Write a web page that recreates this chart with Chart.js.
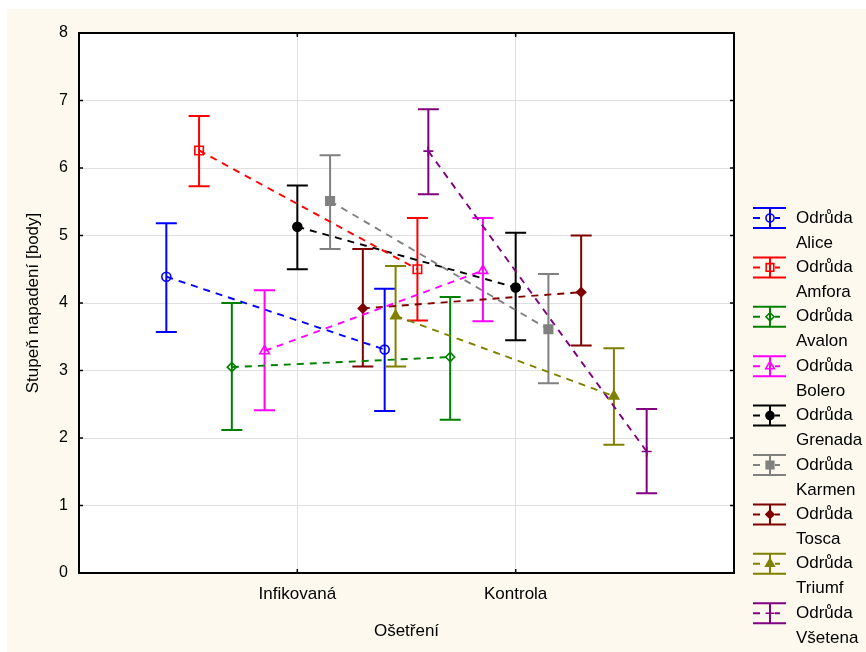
<!DOCTYPE html>
<html><head><meta charset="utf-8">
<script src="https://cdn.jsdelivr.net/npm/chart.js@4"></script>
<style>html,body{margin:0;padding:0;background:#fff;} #wrap{position:relative;width:866px;height:652px;} canvas{display:block;}</style>
</head><body><div id="wrap"><canvas id="c" width="866" height="652"></canvas></div>
<script>
const categories = ['Infikovaná', 'Kontrola'];
const varieties = ['Alice', 'Amfora', 'Avalon', 'Bolero', 'Grenada', 'Karmen', 'Tosca', 'Triumf', 'Všetena'];
const meanInf = [4.39, 6.26, 3.05, 3.29, 5.13, 5.51, 3.92, 3.81, 6.25];
const lowInf  = [3.57, 5.73, 2.12, 2.41, 4.50, 4.80, 3.06, 3.06, 5.61];
const highInf = [5.18, 6.77, 4.00, 4.19, 5.74, 6.19, 4.80, 4.55, 6.87];
const meanKon = [3.31, 4.50, 3.20, 4.48, 4.23, 3.61, 4.16, 2.62, 1.80];
const lowKon  = [2.40, 3.74, 2.27, 3.73, 3.45, 2.81, 3.37, 1.90, 1.18];
const highKon = [4.21, 5.26, 4.09, 5.26, 5.04, 4.43, 5.00, 3.33, 2.43];
const yTicks = [0, 1, 2, 3, 4, 5, 6, 7, 8];

const colors = ['#0000FF', '#FF0000', '#008000', '#FF00FF', '#000000', '#808080', '#800000', '#808000', '#800080'];
const styles = ['circle', 'rect', 'rectRot', 'triangle', 'circle', 'rect', 'rectRot', 'triangle', 'cross'];
const filled = [false, false, false, false, true, true, true, true, false];
const radii  = [4.5, 6, 4.5, 5.5, 4.5, 6, 4.5, 5.5, 5];
const OFFSET = 0.15;
const FONT = '"Liberation Sans", Arial, sans-serif';

const datasets = varieties.map((v, i) => ({
  label: 'Odrůda ' + v,
  data: [
    {x: 1 + (i - 4) * OFFSET, y: meanInf[i], lo: lowInf[i], hi: highInf[i]},
    {x: 2 + (i - 4) * OFFSET, y: meanKon[i], lo: lowKon[i], hi: highKon[i]}
  ],
  borderColor: colors[i],
  backgroundColor: filled[i] ? colors[i] : 'rgba(0,0,0,0)',
  pointBackgroundColor: filled[i] ? colors[i] : 'rgba(0,0,0,0)',
  pointBorderColor: colors[i],
  pointStyle: styles[i],
  pointRadius: radii[i],
  pointBorderWidth: 1.6,
  borderWidth: 1.9,
  borderDash: [7, 6],
  showLine: true,
  fill: false,
  tension: 0
}));

const bgPlugin = {
  id: 'bg',
  beforeDraw(chart) {
    const {ctx, chartArea: a} = chart;
    ctx.save();
    ctx.fillStyle = '#ffffff';
    ctx.fillRect(0, 0, chart.width, chart.height);
    ctx.fillStyle = '#FDF9EF';
    ctx.fillRect(7, 9, chart.width - 7, chart.height - 9);
    ctx.fillStyle = '#ffffff';
    ctx.fillRect(a.left, a.top, a.right - a.left, a.bottom - a.top);
    ctx.restore();
  }
};

const errPlugin = {
  id: 'errbars',
  beforeDatasetsDraw(chart) {
    const {ctx, scales: {x, y}} = chart;
    ctx.save();
    chart.data.datasets.forEach((ds) => {
      ctx.strokeStyle = ds.borderColor;
      ctx.lineWidth = 2;
      ds.data.forEach((p) => {
        const px = x.getPixelForValue(p.x);
        const yl = y.getPixelForValue(p.lo), yh = y.getPixelForValue(p.hi);
        ctx.beginPath();
        ctx.moveTo(px, yl); ctx.lineTo(px, yh);
        ctx.moveTo(px - 10.5, yl); ctx.lineTo(px + 10.5, yl);
        ctx.moveTo(px - 10.5, yh); ctx.lineTo(px + 10.5, yh);
        ctx.stroke();
      });
    });
    ctx.restore();
  }
};

const framePlugin = {
  id: 'frame',
  afterDraw(chart) {
    const {ctx, chartArea: a, scales: {x, y}} = chart;
    ctx.save();
    ctx.strokeStyle = '#000';
    ctx.lineWidth = 1.5;
    ctx.beginPath();
    yTicks.forEach(t => {
      const py = y.getPixelForValue(t);
      ctx.moveTo(a.left, py); ctx.lineTo(a.left + 4, py);
      ctx.moveTo(a.right, py); ctx.lineTo(a.right - 4, py);
    });
    [1, 2].forEach(t => {
      const px = x.getPixelForValue(t);
      ctx.moveTo(px, a.bottom); ctx.lineTo(px, a.bottom - 4);
      ctx.moveTo(px, a.top); ctx.lineTo(px, a.top + 4);
    });
    ctx.stroke();
    ctx.lineWidth = 2;
    ctx.strokeRect(a.left, a.top, a.right - a.left, a.bottom - a.top);

    // legend
    const x0 = 753, x1 = 786, xc = 770;
    ctx.font = '17px ' + FONT;
    ctx.textBaseline = 'middle';
    ctx.textAlign = 'left';
    chart.data.datasets.forEach((ds, i) => {
      const cy = 218 + i * 49.4;
      ctx.strokeStyle = ds.borderColor;
      ctx.lineWidth = 2;
      ctx.setLineDash([]);
      ctx.beginPath();
      ctx.moveTo(x0, cy - 10); ctx.lineTo(x1, cy - 10);
      ctx.moveTo(x0, cy + 10); ctx.lineTo(x1, cy + 10);
      ctx.moveTo(xc, cy - 10); ctx.lineTo(xc, cy + 10);
      ctx.moveTo(x0, cy); ctx.lineTo(x0 + 7, cy);
      ctx.moveTo(xc + 5, cy); ctx.lineTo(xc + 10, cy);
      ctx.stroke();
      ctx.fillStyle = ds.pointBackgroundColor;
      ctx.strokeStyle = ds.borderColor;
      ctx.lineWidth = 1.6;
      Chart.helpers.drawPoint(ctx, {pointStyle: ds.pointStyle, radius: ds.pointRadius * 0.9, rotation: 0, borderWidth: 1.6}, xc, cy);
      ctx.fillStyle = '#000';
      ctx.fillText('Odrůda', 796, cy);
      ctx.fillText(varieties[i], 796, cy + 25);
    });
    ctx.restore();
  }
};

new Chart(document.getElementById('c'), {
  type: 'scatter',
  data: {datasets},
  options: {
    responsive: false,
    animation: false,
    events: [],
    layout: {padding: {top: 33, right: 132, left: 0, bottom: 0}},
    plugins: {legend: {display: false}, tooltip: {enabled: false}},
    scales: {
      x: {
        type: 'linear', min: 0, max: 3,
        afterBuildTicks: (s) => { s.ticks = [{value: 1}, {value: 2}]; },
        afterFit: (s) => { s.height = 79; },
        grid: {color: '#E0E0E0', lineWidth: 1, drawTicks: false},
        border: {display: false},
        ticks: {padding: 11, color: '#000', font: {size: 17, family: FONT},
          callback: (v) => categories[v - 1]},
        title: {display: true, text: 'Ošetření', color: '#000', font: {size: 17, family: FONT}, padding: {top: 0, bottom: 10}}
      },
      y: {
        type: 'linear', min: 0, max: 8,
        afterBuildTicks: (s) => { s.ticks = yTicks.map(v => ({value: v})); },
        afterFit: (s) => { s.width = 79; },
        grid: {color: '#E0E0E0', lineWidth: 1, drawTicks: false},
        border: {display: false},
        ticks: {padding: 11, color: '#000', font: {size: 16, family: FONT}},
        title: {display: true, text: 'Stupeň napadení [body]', color: '#000', font: {size: 17, family: FONT}, padding: {top: 23, bottom: 0}}
      }
    }
  },
  plugins: [bgPlugin, errPlugin, framePlugin]
});
</script></body></html>
